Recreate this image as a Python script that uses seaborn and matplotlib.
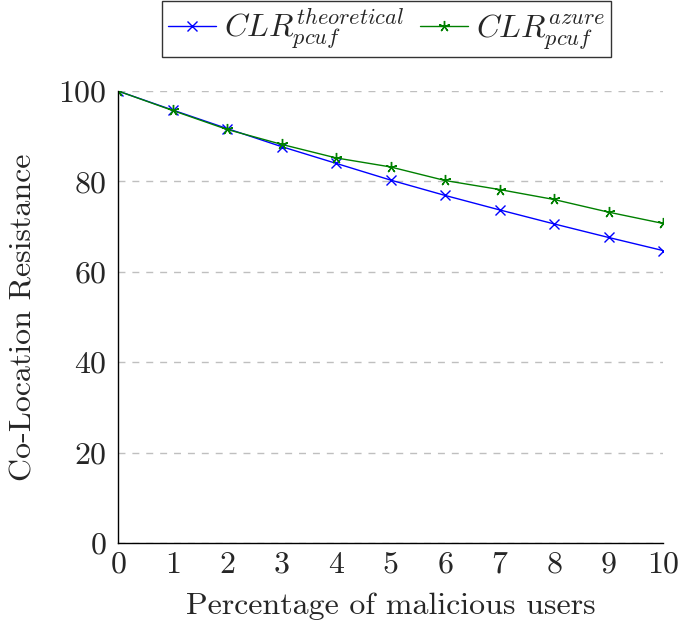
import matplotlib
matplotlib.use("Agg")
import matplotlib.pyplot as plt
import seaborn as sns
import pandas as pd

x_vals = [0, 1, 2, 3, 4, 5, 6, 7, 8, 9, 10]
theoretical = [100, 95.8, 91.7, 87.7, 84.0, 80.3, 76.9, 73.7, 70.6, 67.6, 64.7]
azure = [100, 95.7, 91.5, 88.2, 85.2, 83.2, 80.2, 78.2, 76.0, 73.2, 70.7]
labels = [r"$CLR_{pcuf}^{theoretical}$", r"$CLR_{pcuf}^{azure}$"]
y_ticks = [0, 20, 40, 60, 80, 100]

sns.set_style("white")
plt.rcParams["font.family"] = "serif"
plt.rcParams["font.serif"] = ["cmr10"]
plt.rcParams["mathtext.fontset"] = "cm"
plt.rcParams["axes.formatter.use_mathtext"] = True

fig = plt.figure(figsize=(6.8, 6.32), dpi=100)
ax = fig.add_axes([118/680, 89/632, 545/680, 452/632])

blue = (0, 0, 1)
green = (0, 0.5, 0)
sns.lineplot(x=x_vals, y=theoretical, ax=ax, color=blue, marker="x",
             markersize=6.5, markeredgewidth=1, markeredgecolor=blue,
             linewidth=1, linestyle="-", label=labels[0])
sns.lineplot(x=x_vals, y=azure, ax=ax, color=green, marker=(5, 2, 0),
             markersize=8, markeredgewidth=1, markeredgecolor=green,
             linewidth=1, linestyle="-", label=labels[1])

ax.set_xlim(0, 10)
ax.set_ylim(0, 100)
ax.set_xticks(x_vals)
ax.set_yticks(y_ticks)
ax.yaxis.grid(True, linestyle=(0, (5, 5)), color="#bfbfbf", linewidth=1)
ax.set_axisbelow(True)
for s in ["top", "right"]:
    ax.spines[s].set_visible(False)
for s in ["left", "bottom"]:
    ax.spines[s].set_color("black")
    ax.spines[s].set_linewidth(1)
ax.tick_params(axis="both", direction="in", length=5, color="#999999",
               labelsize=23)
ax.tick_params(axis="x", pad=6)
ax.tick_params(axis="y", pad=8)
ax.set_xlabel("Percentage of malicious users", fontsize=23, labelpad=10)
ax.set_ylabel("Co-Location Resistance", fontsize=23, labelpad=15)

leg = ax.legend(loc="lower center", bbox_to_anchor=(0.493, 1.075), ncol=2,
                fontsize=23, frameon=True, fancybox=False, edgecolor="black",
                borderaxespad=0, handlelength=1.5, columnspacing=0.5,
                handletextpad=0.25, borderpad=0.18)
leg.get_frame().set_linewidth(1)

fig.savefig("out.png", dpi=100)
